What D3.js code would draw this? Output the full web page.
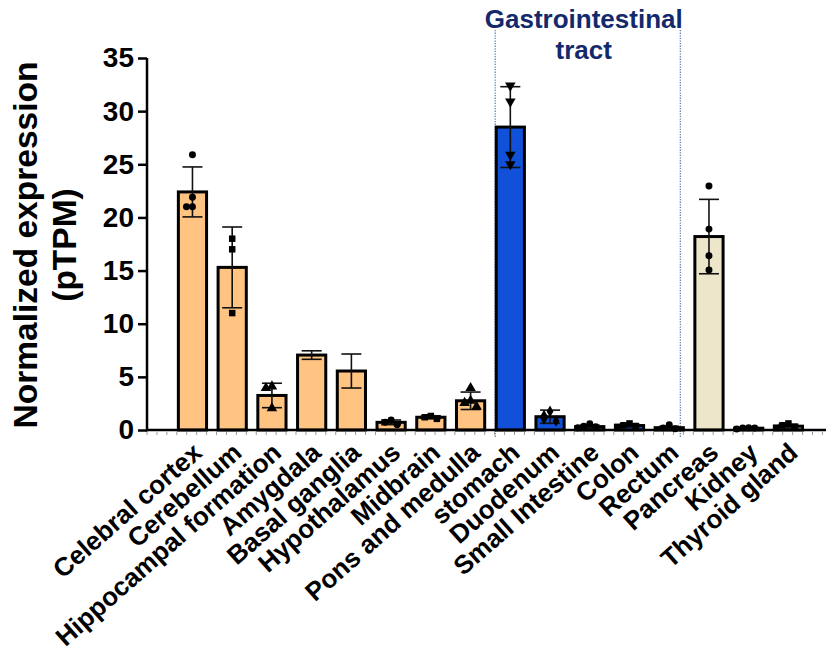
<!DOCTYPE html>
<html>
<head>
<meta charset="utf-8">
<script src="https://cdn.jsdelivr.net/npm/d3@7"></script>
<style>
  html, body { margin: 0; padding: 0; background: #fff; }
  svg { display: block; font-family: "Liberation Sans", Arial, sans-serif; }
</style>
</head>
<body>
<svg id="chart" width="827" height="654"></svg>
<script>
// Tissues, in plotting order
const categories = [
  "Celebral cortex", "Cerebellum", "Hippocampal formation", "Amygdala",
  "Basal ganglia", "Hypothalamus", "Midbrain", "Pons and medulla",
  "stomach", "Duodenum", "Small Intestine", "Colon", "Rectum",
  "Pancreas", "Kidney", "Thyroid gland"
];
// Tissue group of each category (brain / gastrointestinal / other)
const groups = [
  "brain", "brain", "brain", "brain", "brain", "brain", "brain", "brain",
  "gi", "gi", "gi", "gi", "gi",
  "pancreas", "other", "other"
];
// Mean normalized expression (pTPM)
const means = [22.4, 15.3, 3.25, 7.05, 5.55, 0.72, 1.2, 2.75,
               28.5, 1.25, 0.32, 0.42, 0.22, 18.2, 0.17, 0.36];
// Standard deviation
const sds = [2.35, 3.8, 1.15, 0.4, 1.6, 0.22, 0.14, 0.82,
             3.8, 0.62, 0.13, 0.13, 0.13, 3.5, 0.05, 0.18];
// Individual sample values
const samples = [
  [25.9, 21.9, 21.0, 21.0],
  [18.0, 17.0, 11.0],
  [4.1, 3.95, 2.05],
  [],
  [],
  [0.95, 0.72, 0.5],
  [1.32, 1.2, 1.05],
  [3.95, 2.75, 2.55, 2.2],
  [32.4, 30.9, 25.9, 25.0],
  [1.75, 1.35, 1.05, 0.85],
  [0.58, 0.35, 0.3, 0.22],
  [0.62, 0.45, 0.38, 0.3],
  [0.5, 0.2, 0.12],
  [22.95, 18.9, 16.4, 15.05],
  [0.22, 0.2, 0.18, 0.1],
  [0.62, 0.45, 0.3, 0.2]
];
// Marker shape of each tissue's sample points
const markers = [
  "circle", "square", "triangle", "triangle", "circle", "circle", "square", "triangle",
  "down", "diamond", "circle", "square", "circle", "circle", "circle", "square"
];
const yTicks = [0, 5, 10, 15, 20, 25, 30, 35];
const yTitle = ["Normalized expression", "(pTPM)"];
const sectionTitle = ["Gastrointestinal", "tract"];

const fills = { brain: "#FFC382", gi: "#1150D8", pancreas: "#EDE6CA", other: "#FFC382" };

const svg = d3.select("#chart");

const y = d3.scaleLinear().domain([0, 35]).range([430, 58]);
const x = d3.scaleBand()
  .domain(categories)
  .range([172.6, 808.3])
  .paddingInner(0.29)
  .paddingOuter(0.145);

const axisLeft = 147, axisRight = 826;

// Group divider lines around the gastrointestinal tissues
const giFirst = categories[groups.indexOf("gi")];
const giLast = categories[groups.lastIndexOf("gi")];
const dividers = [x(giFirst) - 1, x(giLast) + x.bandwidth() - 3];
svg.append("g").selectAll("line").data(dividers).join("line")
  .attr("x1", d => d).attr("x2", d => d)
  .attr("y1", 30).attr("y2", 437)
  .attr("stroke", "#5E86B5").attr("stroke-width", 1.3)
  .attr("stroke-dasharray", "1.3,1.3");

// Section heading
const headX = (dividers[0] + dividers[1]) / 2 - 4;
svg.append("text")
  .attr("y", 28)
  .attr("text-anchor", "middle")
  .attr("font-size", 26).attr("font-weight", "bold")
  .attr("fill", "#13296B")
  .selectAll("tspan").data(sectionTitle).join("tspan")
  .attr("x", headX)
  .attr("dy", (d, i) => i === 0 ? 0 : 31)
  .text(d => d);

// Bars
svg.append("g").selectAll("rect").data(categories).join("rect")
  .attr("x", d => x(d))
  .attr("y", (d, i) => y(means[i]))
  .attr("width", x.bandwidth())
  .attr("height", (d, i) => y(0) - y(means[i]))
  .attr("fill", (d, i) => fills[groups[i]])
  .attr("stroke", "#000").attr("stroke-width", 3);

// Error bars (mean ± SD)
const cap = 10;
const eb = svg.append("g").attr("stroke", "#111").attr("stroke-width", 1.6);
categories.forEach((c, i) => {
  const cx = x(c) + x.bandwidth() / 2;
  const lo = Math.max(0, means[i] - sds[i]);
  const hi = means[i] + sds[i];
  eb.append("line").attr("x1", cx).attr("x2", cx).attr("y1", y(lo)).attr("y2", y(hi));
  eb.append("line").attr("x1", cx - cap).attr("x2", cx + cap).attr("y1", y(hi)).attr("y2", y(hi));
  eb.append("line").attr("x1", cx - cap).attr("x2", cx + cap).attr("y1", y(lo)).attr("y2", y(lo));
});

// Sample points, spread sideways where they overlap
const symbolFor = {
  circle: d3.symbol().type(d3.symbolCircle).size(38),
  square: d3.symbol().type(d3.symbolSquare).size(42),
  triangle: d3.symbol().type(d3.symbolTriangle).size(48),
  down: d3.symbol().type(d3.symbolTriangle).size(48),
  diamond: d3.symbol().type(d3.symbolDiamond).size(40)
};
const pts = svg.append("g").attr("fill", "#000");
categories.forEach((c, i) => {
  const cx = x(c) + x.bandwidth() / 2;
  const placed = [];
  samples[i].forEach(v => {
    const py = y(v);
    const near = placed.filter(p => Math.abs(p - py) < 6).length;
    const off = near === 0 ? 0 : (near % 2 ? -1 : 1) * Math.ceil(near / 2) * 6;
    placed.push(py);
    const rot = markers[i] === "down" ? 180 : 0;
    pts.append("path")
      .attr("d", symbolFor[markers[i]]())
      .attr("transform", `translate(${cx + off},${py}) rotate(${rot})`);
  });
});

// Minor tick marks along the category axis
const minor = d3.range(axisLeft, axisRight, x.step() / 4);
svg.append("g").selectAll("line").data(minor).join("line")
  .attr("x1", d => d).attr("x2", d => d)
  .attr("y1", y(0) + 2).attr("y2", y(0) + 5)
  .attr("stroke", "#9a9a9a").attr("stroke-width", 1);

// X axis baseline
svg.append("line")
  .attr("x1", axisLeft - 1).attr("x2", axisRight)
  .attr("y1", y(0)).attr("y2", y(0))
  .attr("stroke", "#000").attr("stroke-width", 2.5);

// Y axis
const yAxis = svg.append("g").attr("transform", `translate(${axisLeft},0)`)
  .call(d3.axisLeft(y).tickValues(yTicks).tickSize(9).tickPadding(4).tickFormat(d3.format("d")));
yAxis.select(".domain").attr("stroke", "#000").attr("stroke-width", 2.5)
  .attr("d", `M-0,${y(0) + 1.25}V${y(35)}`);
yAxis.selectAll(".tick line").attr("stroke", "#000").attr("stroke-width", 2.5);
yAxis.selectAll(".tick text")
  .attr("font-size", 28).attr("font-weight", "bold").attr("fill", "#000")
  .attr("font-family", "'Liberation Sans', Arial, sans-serif");

// Category labels, rotated
svg.append("g").selectAll("text").data(categories).join("text")
  .attr("transform", d => `translate(${x(d) + x.bandwidth() / 2 + 11},${y(0) + 25}) rotate(-41.5)`)
  .attr("text-anchor", "end")
  .attr("font-size", 26).attr("font-weight", "bold")
  .attr("fill", "#000")
  .text(d => d);

// Y axis title
svg.append("text")
  .attr("transform", `translate(0,${(y(0) + y(35)) / 2 + 1}) rotate(-90)`)
  .attr("text-anchor", "middle")
  .attr("font-size", 33.5).attr("font-weight", "bold")
  .selectAll("tspan").data(yTitle).join("tspan")
  .attr("x", 0)
  .attr("y", (d, i) => i === 0 ? 37 : 76)
  .text(d => d);
</script>
</body>
</html>
